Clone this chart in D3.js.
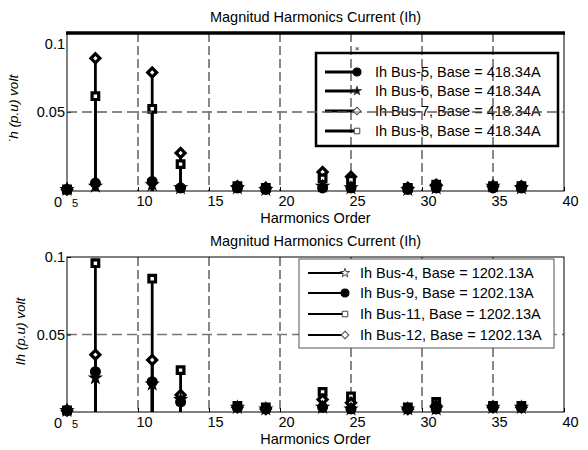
<!DOCTYPE html>
<html>
<head>
<meta charset="utf-8">
<script src="https://cdn.jsdelivr.net/npm/d3@7"></script>
<style>
  body { margin: 0; background: #fff; }
  text { font-family: "Liberation Sans", Arial, sans-serif; fill: #000; }
</style>
</head>
<body>
<svg id="chart" width="588" height="450"></svg>
<script>
// harmonic orders on the x axis
var harmonics = [5, 7, 11, 13, 17, 19, 23, 25, 29, 31, 35, 37];
var xTicks = [10, 15, 20, 25, 30, 35, 40];
var yTicks = [0.05, 0.1];

// upper panel, base 418.34A
var bus5  = [0.001, 0.005, 0.006, 0.002, 0.002, 0.001, 0.002, 0.002, 0.001, 0.002, 0.002, 0.002];
var bus6  = [0.001, 0.003, 0.004, 0.002, 0.002, 0.001, 0.003, 0.002, 0.001, 0.002, 0.003, 0.002];
var bus7  = [0.001, 0.084, 0.075, 0.024, 0.003, 0.002, 0.012, 0.009, 0.002, 0.004, 0.003, 0.003];
var bus8  = [0.001, 0.060, 0.052, 0.017, 0.003, 0.002, 0.008, 0.007, 0.002, 0.004, 0.003, 0.003];

// lower panel, base 1202.13A
var bus4  = [0.001, 0.022, 0.018, 0.008, 0.003, 0.002, 0.003, 0.002, 0.002, 0.002, 0.003, 0.003];
var bus9  = [0.001, 0.026, 0.0195, 0.0065, 0.003, 0.002, 0.003, 0.002, 0.002, 0.002, 0.003, 0.003];
var bus11 = [0.001, 0.096, 0.086, 0.027, 0.004, 0.003, 0.013, 0.010, 0.003, 0.0065, 0.004, 0.004];
var bus12 = [0.001, 0.037, 0.0335, 0.011, 0.003, 0.002, 0.008, 0.006, 0.002, 0.004, 0.003, 0.003];

var topSeries = [
    {name: "Ih Bus-5, Base = 418.34A", values: bus5, marker: "circle"},
    {name: "Ih Bus-6, Base = 418.34A", values: bus6, marker: "star"},
    {name: "Ih Bus-7, Base = 418.34A", values: bus7, marker: "diamond"},
    {name: "Ih Bus-8, Base = 418.34A", values: bus8, marker: "square"}
];
var bottomSeries = [
    {name: "Ih Bus-4, Base = 1202.13A", values: bus4, marker: "star"},
    {name: "Ih Bus-9, Base = 1202.13A", values: bus9, marker: "circle"},
    {name: "Ih Bus-11, Base = 1202.13A", values: bus11, marker: "square"},
    {name: "Ih Bus-12, Base = 1202.13A", values: bus12, marker: "diamond"}
];

var svg = d3.select("#chart");
var left = 67, right = 564;
var x = d3.scaleLinear().domain([5, 40]).range([left, right]);
var fontSize = "14.5px";

function isFilled(type) { return type == "circle" || type == "star"; }

function markerPath(type, big) {
    var s = big ? 1 : 0.7;
    if (type == "circle") return d3.symbol().type(d3.symbolCircle).size(72 * s)();
    if (type == "star") return d3.symbol().type(d3.symbolStar).size(36 * s)();
    // diamond = square turned 45 degrees
    if (type == "diamond") return d3.symbol().type(d3.symbolSquare).size(40 * s)();
    return d3.symbol().type(d3.symbolSquare).size(44 * s)();
}
function markerRot(type) {
    return type == "diamond" ? " rotate(45)" : "";
}

function drawPanel(opt) {
    var y = d3.scaleLinear().domain([0, 0.1]).range([opt.bottom, opt.top]);
    var g = svg.append("g");

    // title
    g.append("text")
     .attr("x", (left + right) / 2)
     .attr("y", opt.top - 11)
     .attr("text-anchor", "middle")
     .attr("font-size", fontSize)
     .text("Magnitud Harmonics Current (Ih)");

    // grid
    g.selectAll(".vgrid")
     .data(xTicks.slice(0, -1))
     .enter().append("line")
     .attr("x1", function(d) { return x(d); })
     .attr("x2", function(d) { return x(d); })
     .attr("y1", opt.top)
     .attr("y2", opt.bottom)
     .style("stroke", "#111")
     .style("stroke-width", 1)
     .style("stroke-dasharray", "9,4");

    g.append("line")
     .attr("x1", left).attr("x2", right)
     .attr("y1", y(0.05)).attr("y2", y(0.05))
     .style("stroke", "#777")
     .style("stroke-width", 1.5)
     .style("stroke-dasharray", "10,5");

    // frame
    g.append("rect")
     .attr("x", left).attr("y", opt.top)
     .attr("width", right - left).attr("height", opt.bottom - opt.top)
     .style("fill", "none")
     .style("stroke", "#000")
     .style("stroke-width", 1);
    if (opt.thickTop) {
        g.append("line")
         .attr("x1", left - 1).attr("x2", right + 1)
         .attr("y1", opt.top).attr("y2", opt.top)
         .style("stroke", "#000")
         .style("stroke-width", 3.5);
    }

    // x axis
    var xa = g.append("g")
     .attr("transform", "translate(0," + opt.bottom + ")")
     .call(d3.axisBottom(x).tickValues(xTicks).tickSize(-4).tickPadding(5));
    xa.select(".domain").remove();
    xa.selectAll("text").attr("dx", 6).attr("font-size", fontSize)
      .style("font-family", "Liberation Sans, Arial, sans-serif");
    g.append("text").attr("x", x(5) - 9).attr("y", opt.bottom + 16)
     .attr("text-anchor", "middle").attr("font-size", fontSize).text("0");
    g.append("text").attr("x", x(5) + 8).attr("y", opt.bottom + 16)
     .attr("text-anchor", "middle").attr("font-size", "11px").text("5");

    // y axis
    var ya = g.append("g")
     .attr("transform", "translate(" + left + ",0)")
     .call(d3.axisLeft(y).tickValues(yTicks).tickSize(-4).tickPadding(2)
        .tickFormat(function(d) { return d == 0.1 ? "0.1" : "0.05"; }));
    ya.select(".domain").remove();
    ya.selectAll("text").attr("font-size", fontSize)
      .style("font-family", "Liberation Sans, Arial, sans-serif")
      .attr("dy", function(d) { return d == 0.1 ? opt.topLabelDy : "0.32em"; });

    g.append("text")
     .attr("x", (left + right) / 2)
     .attr("y", opt.bottom + 32)
     .attr("text-anchor", "middle")
     .attr("font-size", fontSize)
     .text("Harmonics Order");

    g.append("text")
     .attr("transform", "translate(" + opt.ylabX + "," + ((opt.top + opt.bottom) / 2 - 3) + ") rotate(-90)")
     .attr("text-anchor", "middle")
     .attr("font-size", "13.5px")
     .attr("font-style", "italic")
     .text(opt.ylabel);

    // stems
    var plot = g.append("g");
    opt.series.forEach(function(s) {
        plot.selectAll(null)
         .data(s.values)
         .enter().append("line")
         .attr("x1", function(d, i) { return x(harmonics[i]); })
         .attr("x2", function(d, i) { return x(harmonics[i]); })
         .attr("y1", y(0))
         .attr("y2", function(d) { return y(d); })
         .style("stroke", "#000")
         .style("stroke-width", 2.8);
    });
    // open markers under the filled ones, so the low clusters read as dark blobs
    var order = opt.series.filter(function(s) { return !isFilled(s.marker); })
        .concat(opt.series.filter(function(s) { return isFilled(s.marker); }));
    order.forEach(function(s) {
        plot.selectAll(null)
         .data(s.values)
         .enter().append("path")
         .attr("transform", function(d, i) {
             return "translate(" + x(harmonics[i]) + "," + y(d) + ")" + markerRot(s.marker);
         })
         .attr("d", markerPath(s.marker, true))
         .style("fill", isFilled(s.marker) ? "#000" : "#fff")
         .style("stroke", "#000")
         .style("stroke-width", isFilled(s.marker) ? 1.5 : 3.2);
    });

    // legend
    var lg = g.append("g");
    lg.append("rect")
     .attr("x", opt.legend.x).attr("y", opt.legend.y)
     .attr("width", opt.legend.w).attr("height", opt.legend.h)
     .style("fill", opt.legend.fill)
     .style("stroke", opt.legend.stroke)
     .style("stroke-width", opt.legend.sw);
    if (opt.legend.fill == "none") {
        // grid shows through the transparent legend
        g.append("line")
         .attr("x1", left).attr("x2", right)
         .attr("y1", y(0.05)).attr("y2", y(0.05))
         .style("stroke", "#777")
         .style("stroke-width", 1.2)
         .style("stroke-dasharray", "10,5");
    }
    opt.series.forEach(function(s, i) {
        var ry = opt.legend.rows[i];
        lg.append("line")
         .attr("x1", opt.legend.lx1).attr("x2", opt.legend.lx2)
         .attr("y1", ry).attr("y2", ry)
         .style("stroke", "#000")
         .style("stroke-width", opt.legend.lw);
        lg.append("path")
         .attr("transform", "translate(" + opt.legend.lx2 + "," + ry + ")" + markerRot(s.marker))
         .attr("d", markerPath(s.marker, false))
         .style("fill", s.marker == "circle" ? "#000" : (s.marker == "star" && opt.thickTop ? "#000" : "#fff"))
         .style("stroke", s.marker == "circle" ? "#000" : "#444")
         .style("stroke-width", 1);
        lg.append("text")
         .attr("x", opt.legend.tx)
         .attr("y", ry)
         .attr("dy", "0.35em")
         .attr("font-size", fontSize)
         .text(s.name);
    });
}

drawPanel({
    top: 33, bottom: 191, series: topSeries, thickTop: true,
    ylabel: "\u02D9h  (p.u) volt", ylabX: 18, topLabelDy: "1.1em",
    legend: {x: 316, y: 53, w: 242, h: 93, fill: "none", stroke: "#000", sw: 2.5,
             rows: [72, 91, 111, 131], lx1: 325, lx2: 357, tx: 375, lw: 3}
});
drawPanel({
    top: 257, bottom: 412, series: bottomSeries, thickTop: false,
    ylabel: "Ih (p.u) volt", ylabX: 25, topLabelDy: "0.32em",
    legend: {x: 299, y: 259, w: 255, h: 89, fill: "#fff", stroke: "#555", sw: 1,
             rows: [273, 293, 314, 335], lx1: 308, lx2: 345, tx: 360, lw: 2}
});

// small stray mark above the upper legend
svg.append("text")
   .attr("x", 357).attr("y", 51)
   .attr("text-anchor", "middle")
   .attr("font-size", "8px")
   .text("\u00D7");
</script>
</body>
</html>
